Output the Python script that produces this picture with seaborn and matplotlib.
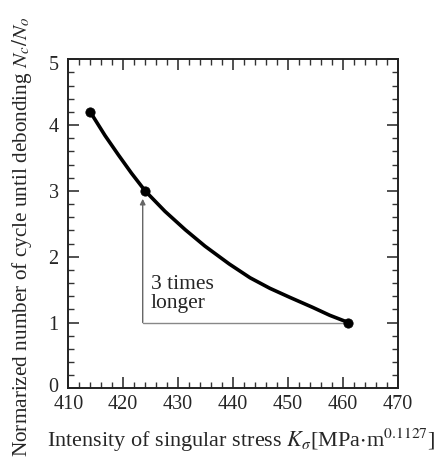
import matplotlib
matplotlib.use("Agg")
import matplotlib.pyplot as plt
import matplotlib.transforms as mtransforms
import seaborn as sns
import pandas as pd
from matplotlib.ticker import MultipleLocator

# data
curve_k = [414, 416.7, 419.1, 421.5, 424, 427.6, 431.3, 434.9, 439.3,
           443.1, 446.7, 450.4, 454.5, 457.6, 461]
curve_n = [4.2, 3.84, 3.55, 3.27, 3.0, 2.69, 2.41, 2.16, 1.89,
           1.68, 1.52, 1.38, 1.23, 1.11, 1.0]
point_k = [414, 424, 461]
point_n = [4.2, 3.0, 1.0]

sns.set_theme(style="ticks")
plt.rcParams['font.family'] = ['Liberation Serif', 'DejaVu Serif']
plt.rcParams['mathtext.fontset'] = 'stix'

fig = plt.figure(figsize=(4.42, 4.70), dpi=100)
ax = fig.add_axes([0.1545, 0.1738, 0.7455, 0.70])

df_c = pd.DataFrame({"k": curve_k, "n": curve_n})
df_p = pd.DataFrame({"k": point_k, "n": point_n})
sns.lineplot(data=df_c, x="k", y="n", ax=ax, color="black", lw=2.6, sort=True)
sns.scatterplot(data=df_p, x="k", y="n", ax=ax, color="black", s=45, edgecolor="black", zorder=5)

# annotation: arrow and bracket
ax.plot([423.55, 461], [1.0, 1.0], color="#888888", lw=1.0)
ax.annotate("", xy=(423.55, 2.88), xytext=(423.55, 1.0),
            arrowprops=dict(arrowstyle="-|>", color="#666666", lw=1.0,
                            mutation_scale=8, shrinkA=0, shrinkB=0))
ax.text(425.0, 1.72, "3 times\nlonger", fontsize=15.5, va="top", ha="left",
        linespacing=1.0)

ax.set_xlim(410, 470)
ax.set_ylim(0, 5)
ax.xaxis.set_major_locator(MultipleLocator(10))
ax.xaxis.set_minor_locator(MultipleLocator(2))
ax.yaxis.set_major_locator(MultipleLocator(1))
ax.yaxis.set_minor_locator(MultipleLocator(0.2))
ax.tick_params(which="both", direction="in", top=True, right=True,
               color="#333333", labelsize=14.5)
ax.tick_params(axis="x", which="major", pad=5)
ax.tick_params(axis="y", which="major", pad=7)
ax.tick_params(which="major", length=8, width=1.2)
ax.tick_params(which="minor", length=4, width=1.0)
for s in ax.spines.values():
    s.set_linewidth(1.4)
    s.set_color("#222222")

ax.set_xlabel(r"Intensity of singular stress $K_{\sigma}$[MPa$\cdot$m$^{0.1127}$]",
              fontsize=16)
ax.set_ylabel(r"Normarized number of cycle until debonding $N_c/N_o$",
              fontsize=15.3)
ax.xaxis.set_label_coords(0.525, -0.115)
ax.yaxis.set_label_coords(-0.105, 0.46)

fig.canvas.draw()
ylabels = ax.get_yticklabels()
shift_up = mtransforms.ScaledTranslation(0, 3 / 100, fig.dpi_scale_trans)
shift_dn = mtransforms.ScaledTranslation(0, -4 / 100, fig.dpi_scale_trans)
for lab in ylabels:
    if lab.get_text() == "0":
        lab.set_transform(lab.get_transform() + shift_up)
    elif lab.get_text() == "5":
        lab.set_transform(lab.get_transform() + shift_dn)

fig.savefig("out.png", dpi=100)
